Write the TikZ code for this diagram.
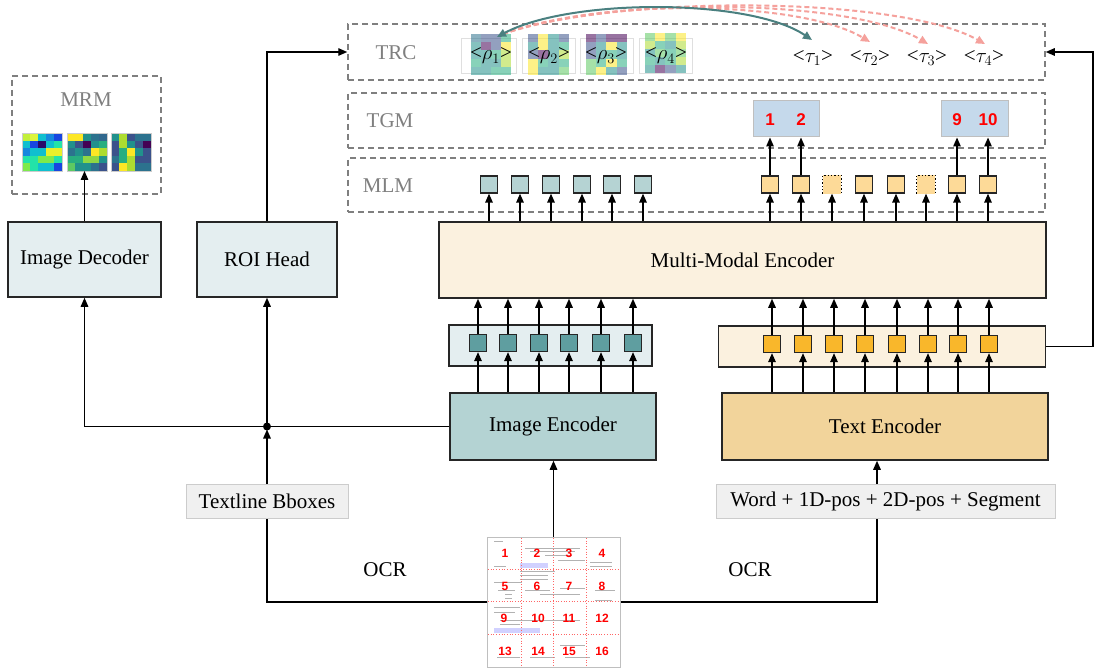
\documentclass[tikz,border=0pt]{standalone}
\usepackage{fontspec}
\setmainfont{Liberation Serif}
\newfontfamily\sansb{Liberation Sans}
\usetikzlibrary{arrows.meta,calc}
\definecolor{dashgray}{HTML}{7F7F7F}
\definecolor{lbg}{HTML}{E4EEF0}
\definecolor{cream}{HTML}{FBF1DF}
\definecolor{imgtok}{HTML}{5F9EA0}
\definecolor{txttok}{HTML}{F9B72B}
\definecolor{mlmimg}{HTML}{B5D3D3}
\definecolor{mlmtxt}{HTML}{FDDA98}
\definecolor{imgenc}{HTML}{B4D3D3}
\definecolor{txtenc}{HTML}{F2D49B}
\definecolor{tgmfill}{HTML}{C5D9EB}
\definecolor{lightbox}{HTML}{F0F0F0}
\definecolor{tealarr}{HTML}{4A8080}
\definecolor{pinkc}{HTML}{F5A19C}
\definecolor{jA}{HTML}{C3F03A}
\definecolor{jB}{HTML}{DDF53C}
\definecolor{jC}{HTML}{10BFCF}
\definecolor{jD}{HTML}{1687DE}
\definecolor{jE}{HTML}{1846E0}
\definecolor{jF}{HTML}{2A0A6A}
\definecolor{jG}{HTML}{23E3A8}
\definecolor{jH}{HTML}{7EEA4A}
\definecolor{jI}{HTML}{E8F02A}
\definecolor{vA}{HTML}{440154}
\definecolor{vB}{HTML}{3B528B}
\definecolor{vC}{HTML}{2C728E}
\definecolor{vD}{HTML}{21918C}
\definecolor{vE}{HTML}{28AE80}
\definecolor{vF}{HTML}{5EC962}
\definecolor{vG}{HTML}{ADDC30}
\definecolor{vH}{HTML}{FDE725}
\definecolor{vI}{HTML}{31688E}
\definecolor{vJ}{HTML}{8FD744}
\newcommand\hmap[7]{%
  \foreach \cl [count=\k from 0] in {#7} {
    \pgfmathtruncatemacro\cc{mod(\k,#5)}
    \pgfmathtruncatemacro\rr{div(\k,#5)}
    \fill[fill=\cl, fill opacity=#6] ({#1+\cc*#3},{#2+\rr*#4}) rectangle ++(#3,#4);
  }}
\begin{document}
\begin{tikzpicture}[x=1pt,y=-1pt,
  box/.style={draw=black!85, line width=1.5pt, inner sep=0pt},
  dashbox/.style={draw=dashgray, dash pattern=on 6pt off 4pt, line width=1.5pt, inner sep=0pt},
  arr/.style={-{Triangle[length=9pt,width=7.5pt]}, line width=1.4pt, draw=black},
  conn/.style={line width=1.4pt, draw=black},
  tok/.style={draw=black!85, line width=1.3pt, minimum size=17pt, inner sep=0pt},
  lbl/.style={font=\fontsize{21}{25}\selectfont, text=black},
  glabel/.style={font=\fontsize{21}{25}\selectfont, text=dashgray},
  rednum/.style={font=\sansb\bfseries\fontsize{17}{20}\selectfont, text=red},
  docnum/.style={font=\sansb\bfseries\fontsize{12}{14}\selectfont, text=red, inner sep=0pt},
  scrib/.style={draw=gray!60, line width=0.8pt},
  pinkarr/.style={draw=pinkc, line width=2pt, dash pattern=on 5pt off 3pt, -{Triangle[length=9pt,width=8pt]}}
]
\useasboundingbox (0,0) rectangle (1094,668);
\fill[white] (0,0) rectangle (1094,668);

% dashed task boxes
\node[dashbox, minimum width=697pt, minimum height=56pt] (trc) at (696.5,52) {};
\node[dashbox, minimum width=697pt, minimum height=55pt] (tgm) at (696.5,120.5) {};
\node[dashbox, minimum width=697pt, minimum height=54pt] (mlm) at (696.5,185) {};
\node[dashbox, minimum width=149pt, minimum height=118pt] (mrm) at (86.5,135) {};
\node[glabel] (trcl) at (396,53) {TRC};
\node[glabel] (tgml) at (390,121) {TGM};
\node[glabel] (mlml) at (388,186) {MLM};
\node[glabel] (mrml) at (86,100) {MRM};

% MRM heatmaps
\hmap{22}{133}{8}{7.6}{5}{1}{jA,jB,jC,jD,jE, jC,jE,jF,jC,jG, jD,jC,jC,jI,jI, jG,jG,jH,jH,jG, jH,jG,jC,jC,jE}
\hmap{67}{133}{8}{7.6}{5}{1}{vH,vH,vD,vC,vI, vD,vB,vA,vD,vE, vC,vD,vC,vH,vG, vE,vE,vJ,vJ,vD, vF,vD,vD,vC,vB}
\hmap{111}{133}{8}{7.6}{5}{1}{vD,vG,vB,vC,vC, vB,vG,vD,vB,vA, vB,vE,vH,vD,vB, vC,vE,vG,vB,vB, vB,vH,vG,vC,vC}
\foreach \hx in {22,67,111} \draw[gray!40, line width=0.8pt] (\hx,133) rectangle ++(40,38);
\coordinate (hm2) at (85,171);

% TRC patches
\foreach \fx/\fw in {461/55,522/53,580/53,639/53}
  \draw[gray!25, fill=white, line width=0.8pt] (\fx,38) rectangle ++(\fw,35);
\hmap{471}{34}{10}{8.2}{4}{0.55}{vC,vB,vB,vE, vD,vA,vB,vH, vD,vD,vE,vG, vE,vD,vD,vG, vD,vD,vE,vE}
\hmap{528}{34}{10.2}{8.2}{4}{0.55}{vB,vH,vD,vB, vD,vH,vD,vE, vB,vA,vD,vG, vH,vE,vD,vE, vH,vD,vD,vF}
\hmap{586}{34}{10.2}{8.2}{4}{0.55}{vA,vB,vA,vA, vB,vD,vH,vD, vB,vD,vE,vD, vF,vE,vH,vE, vF,vH,vD,vB}
\hmap{645}{33}{10.2}{8}{4}{0.55}{vF,vH,vF,vH, vG,vE,vD,vG, vD,vF,vE,vF, vE,vD,vE,vG, vD,vA,vB,vD}
\node[lbl] (p1) at (491,56) {<$\rho_1$>};
\node[lbl] (p2) at (549,56) {<$\rho_2$>};
\node[lbl] (p3) at (606,56) {<$\rho_3$>};
\node[lbl] (p4) at (666,56) {<$\rho_4$>};
\node[lbl] (t1) at (813,58) {<$\tau_1$>};
\node[lbl] (t2) at (870,58) {<$\tau_2$>};
\node[lbl] (t3) at (927,58) {<$\tau_3$>};
\node[lbl] (t4) at (984,58) {<$\tau_4$>};
\coordinate (ra) at (497,37);
\coordinate (pa) at (503,34);
\coordinate (ta1) at (812,40);
\coordinate (ta2) at (870,42);
\coordinate (ta3) at (928,44);
\coordinate (ta4) at (985,44);
\draw[pinkarr] (pa) .. controls (600,-2) and (800,0) .. (ta2);
\draw[pinkarr] (pa) .. controls (610,-4) and (850,-2) .. (ta3);
\draw[pinkarr] (pa) .. controls (620,-6) and (900,-4) .. (ta4);
\draw[draw=tealarr, line width=2pt, {Triangle[length=9pt,width=8pt]}-{Triangle[length=9pt,width=8pt]}] (ra) .. controls (570,-2) and (750,-2) .. (ta1);

% main boxes
\node[box, fill=lbg, minimum width=153pt, minimum height=75pt, lbl] (idec) at (84.5,259.5) {Image Decoder};
\node[box, fill=lbg, minimum width=140pt, minimum height=75pt, lbl] (roi) at (267,259.5) {ROI Head};
\node[box, fill=cream, minimum width=607pt, minimum height=76pt, lbl] (mme) at (742.5,260) {Multi-Modal Encoder};
\node[box, fill=lbg, minimum width=203pt, minimum height=41pt] (ibar) at (550.5,345.5) {};
\node[box, fill=cream, minimum width=327pt, minimum height=41pt] (tbar) at (882,346.5) {};
\node[box, fill=imgenc, minimum width=206pt, minimum height=67pt, lbl] (ienc) at (553,426.5) {Image Encoder};
\node[box, fill=txtenc, minimum width=326pt, minimum height=67pt, lbl] (tenc) at (885,426.5) {Text Encoder};
\node[draw=gray!40, line width=1pt, fill=lightbox, minimum width=162pt, minimum height=34pt, inner sep=0pt, lbl] (tlb) at (267,501) {Textline Bboxes};
\node[draw=gray!40, line width=1pt, fill=lightbox, minimum width=339pt, minimum height=34pt, inner sep=0pt, lbl] (wbox) at (885.5,501) {Word + 1D-pos + 2D-pos + Segment};

% tokens
\foreach \x [count=\i] in {478,508,539,569,601,633}
  \node[tok, fill=imgtok] (it\i) at (\x,343) {};
\foreach \x [count=\i] in {772,803,834,865,897,928,958,989}
  \node[tok, fill=txttok] (tt\i) at (\x,344) {};
\foreach \x [count=\i] in {489,520,551,582,612,643}
  \node[tok, fill=mlmimg] (mi\i) at (\x,184.5) {};
\foreach \x [count=\i] in {770,801,832,864,896,926,957,988}
  \node[tok, fill=mlmtxt] (mt\i) at (\x,184.5) {};
\draw[fill=mlmtxt, line width=1.3pt, dotted] (mt3.south west) rectangle (mt3.north east);
\draw[fill=mlmtxt, line width=1.3pt, dotted] (mt6.south west) rectangle (mt6.north east);
\draw[fill=mlmtxt, draw=mlmtxt] ([shift={(0.7,-0.7)}]mt3.south west) rectangle ([shift={(-0.7,0.7)}]mt3.north east);
\draw[fill=mlmtxt, draw=mlmtxt] ([shift={(0.7,-0.7)}]mt6.south west) rectangle ([shift={(-0.7,0.7)}]mt6.north east);

% token arrows
\foreach \i in {1,...,6} {
  \draw[arr] (ienc.north -| it\i) -- (it\i.south);
  \draw[arr] (it\i.north) -- (it\i.north |- mme.south);
  \draw[arr] (mme.north -| mi\i) -- (mi\i.south);
}
\foreach \i in {1,...,8} {
  \draw[arr] (tenc.north -| tt\i) -- (tt\i.south);
  \draw[arr] (tt\i.north) -- (tt\i.north |- mme.south);
  \draw[arr] (mme.north -| mt\i) -- (mt\i.south);
}

% TGM
\node[draw=gray!50, line width=1pt, fill=tgmfill, minimum width=66pt, minimum height=36pt] (g1) at (786,119) {};
\node[draw=gray!50, line width=1pt, fill=tgmfill, minimum width=67pt, minimum height=36pt] (g2) at (974.5,119) {};
\node[rednum] (n1) at (770,120) {1};
\node[rednum] (n2) at (801,120) {2};
\node[rednum] (n9) at (957,120) {9};
\node[rednum] (n10) at (988,120) {10};
\draw[arr] (mt1.north) -- (mt1.north |- g1.south);
\draw[arr] (mt2.north) -- (mt2.north |- g1.south);
\draw[arr] (mt7.north) -- (mt7.north |- g2.south);
\draw[arr] (mt8.north) -- (mt8.north |- g2.south);

% right feedback to TRC
\coordinate (rc) at (1093,0);
\draw[arr] (tbar.east) -- (tbar.east -| rc) -- (rc |- trc.east) -- (trc.east);
% ROI head to TRC
\draw[arr] (roi.north) |- (trc.west);
% Image decoder to MRM
\draw[arr] (idec.north) -- (idec.north |- hm2);

% junction
\coordinate (jn) at (267,426.5);
\draw[conn] (ienc.west) -- (ienc.west -| idec.south);
\draw[arr] (ienc.west -| idec.south) -- (idec.south);
\draw[arr] (jn) -- (roi.south);
\draw[arr, shorten >=3pt] (tlb.north) -- (jn);
\fill (jn) circle (4pt);

% document
\node[draw=gray!50, line width=1pt, fill=white, minimum width=133pt, minimum height=130pt] (doc) at (553.5,602) {};
\fill[blue!18] (520,563) rectangle (548,568);
\fill[blue!18] (494,628) rectangle (540,633);
\foreach \ax/\bx/\ay in {494/503/541, 525/580/548, 530/575/551, 545/572/555, 558/585/560, 494/506/566, 520/555/571, 520/548/575, 520/548/579, 590/612/562, 590/612/566, 494/522/582, 498/515/590, 525/550/590, 505/512/594, 505/512/598, 540/580/594, 560/585/588, 595/615/590, 595/612/600, 494/520/607, 494/515/612, 500/580/620, 500/520/624, 560/585/645, 497/520/657, 530/555/657, 565/590/657}
  \draw[scrib] (\ax,\ay) -- (\bx,\ay);
\foreach \gx in {521,553,586} \draw[red!60, dotted, line width=0.7pt] (\gx,538) -- (\gx,666);
\foreach \gy in {569,601,634} \draw[red!60, dotted, line width=0.7pt] (488,\gy) -- (620,\gy);
\foreach \n/\nx/\ny in {1/505/553,2/537/553,3/569/553,4/602/553,5/505/586,6/537/586,7/569/586,8/602/586,9/504/618,10/538/618,11/569/618,12/602/618,13/505/651,14/538/651,15/569/651,16/602/651}
  \node[docnum] (d\n) at (\nx,\ny) {\n};

% OCR connectors
\coordinate (ocrR) at (877,0);
\draw[arr] (doc.north) -- (doc.north |- ienc.south);
\draw[conn] (doc.west) -- (doc.west -| tlb.south) -- (tlb.south);
\draw[conn] (doc.east) -- (doc.east -| ocrR) -- (wbox.south -| ocrR);
\draw[arr] (wbox.north -| ocrR) -- (tenc.south -| ocrR);
\node[lbl] (ocr1) at (385,570) {OCR};
\node[lbl] (ocr2) at (750,570) {OCR};
\end{tikzpicture}
\end{document}
